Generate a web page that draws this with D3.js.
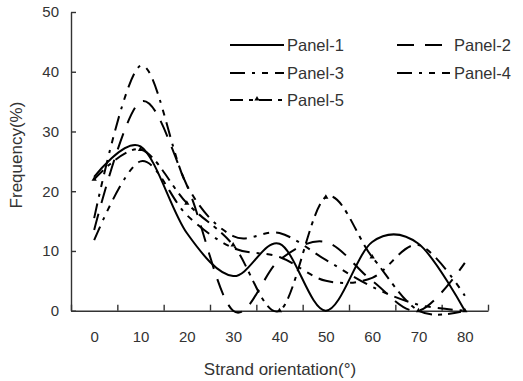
<!DOCTYPE html>
<html>
<head>
<meta charset="utf-8">
<script src="https://cdn.jsdelivr.net/npm/d3@7"></script>
<style>
  body { margin: 0; background: #fff; }
  text { font-family: "Liberation Sans", Arial, sans-serif; fill: #333; }
</style>
</head>
<body>
<div class="vis-linechart"></div>
<script>
// strand orientation categories (degrees)
const angles = [0, 10, 20, 30, 40, 50, 60, 70, 80];

// frequency (%) per panel
const panel1 = [22.4, 27.5, 13, 5.8, 11.2, 0, 11.5, 11.2, 0];
const panel2 = [13.5, 35, 21, 0, 8.5, 11.5, 5, 0, 8];
const panel3 = [15.5, 41, 21, 12.5, 13, 8.5, 4, 1, 0];
const panel4 = [11.8, 25, 16, 10.5, 9, 5, 5.5, 11, 2.5];
const panel5 = [22, 27, 18, 11, 0, 19, 9, 0, 0];

const seriesNames = ["Panel-1", "Panel-2", "Panel-3", "Panel-4", "Panel-5"];
const yTicks = [0, 10, 20, 30, 40, 50];

const series = [panel1, panel2, panel3, panel4, panel5].map((vals, i) => ({
    name: seriesNames[i],
    values: vals.map((v, j) => ({ a: angles[j], v: v }))
}));

const dashes = [null, "17,11", "15,7,3,7,6,7", "15,7,3,7,6,7", "13,6,4,6"];

const width = 523, height = 381;
const svg = d3.select(".vis-linechart")
    .append("svg")
    .attr("width", width)
    .attr("height", height);

// categories sit in the middle of bands, ticks on band edges
const x = d3.scaleLinear().domain([-5, 85]).range([71, 488]);
const y = d3.scaleLinear().domain([0, 50]).range([310.7, 12]);

// y axis
const yAxis = svg.append("g")
    .attr("transform", "translate(" + x.range()[0] + ",0)")
    .call(d3.axisLeft(y).tickValues(yTicks).tickSizeInner(-5).tickSizeOuter(0).tickPadding(12));
yAxis.selectAll("text").style("font-size", "15px").attr("fill", "#333");

// x axis: tick marks on band edges
const edges = d3.range(-5, 86, 10);
svg.append("g")
    .attr("transform", "translate(0," + y(0) + ")")
    .call(d3.axisBottom(x).tickValues(edges).tickSizeInner(-6).tickSizeOuter(0).tickFormat(""));
const xLabels = svg.append("g")
    .attr("transform", "translate(0," + y(0) + ")")
    .call(d3.axisBottom(x).tickValues(angles).tickSize(0).tickPadding(21));
xLabels.select(".domain").remove();
xLabels.selectAll("text").style("font-size", "15px").attr("fill", "#333");

svg.selectAll(".domain, .tick line").attr("stroke", "#333").attr("stroke-width", 1.4);

// axis titles
svg.append("text")
    .attr("x", 280).attr("y", 375)
    .attr("text-anchor", "middle")
    .style("font-size", "17px")
    .text("Strand orientation(°)");
svg.append("text")
    .attr("transform", "translate(22,155) rotate(-90)")
    .attr("text-anchor", "middle")
    .style("font-size", "17px")
    .text("Frequency(%)");

// smoothed lines
const line = d3.line()
    .x(d => x(d.a))
    .y(d => y(d.v))
    .curve(d3.curveCardinal.tension(0));

svg.selectAll(".series")
    .data(series)
    .enter().append("path")
    .attr("class", "series")
    .attr("fill", "none")
    .attr("stroke", "#000")
    .attr("stroke-width", 2)
    .attr("stroke-dasharray", (d, i) => dashes[i])
    .attr("d", d => line(d.values));

// triangle markers for panel 5
const tri = d3.symbol(d3.symbolTriangle).size(12);
svg.selectAll(".mark")
    .data(series[4].values)
    .enter().append("path")
    .attr("class", "mark")
    .attr("transform", d => "translate(" + x(d.a) + "," + y(d.v) + ")")
    .attr("d", tri)
    .attr("fill", "#000");

// legend
const legendPos = [
    { x0: 230, x1: 284, tx: 287, y: 45 },
    { x0: 397, x1: 450, tx: 454, y: 45 },
    { x0: 230, x1: 284, tx: 287, y: 73 },
    { x0: 397, x1: 450, tx: 454, y: 73 },
    { x0: 230, x1: 284, tx: 287, y: 100 }
];
const legend = svg.selectAll(".legend")
    .data(series)
    .enter().append("g")
    .attr("class", "legend");
legend.append("line")
    .attr("x1", (d, i) => legendPos[i].x0)
    .attr("x2", (d, i) => legendPos[i].x1)
    .attr("y1", (d, i) => legendPos[i].y)
    .attr("y2", (d, i) => legendPos[i].y)
    .attr("stroke", "#000")
    .attr("stroke-width", 2.2)
    .attr("stroke-dasharray", (d, i) => dashes[i]);
legend.append("text")
    .attr("x", (d, i) => legendPos[i].tx)
    .attr("y", (d, i) => legendPos[i].y + 6)
    .style("font-size", "16.5px")
    .text(d => d.name);
legend.filter((d, i) => i === 4).append("path")
    .attr("transform", "translate(257,99)")
    .attr("d", tri)
    .attr("fill", "#000");
</script>
</body>
</html>
